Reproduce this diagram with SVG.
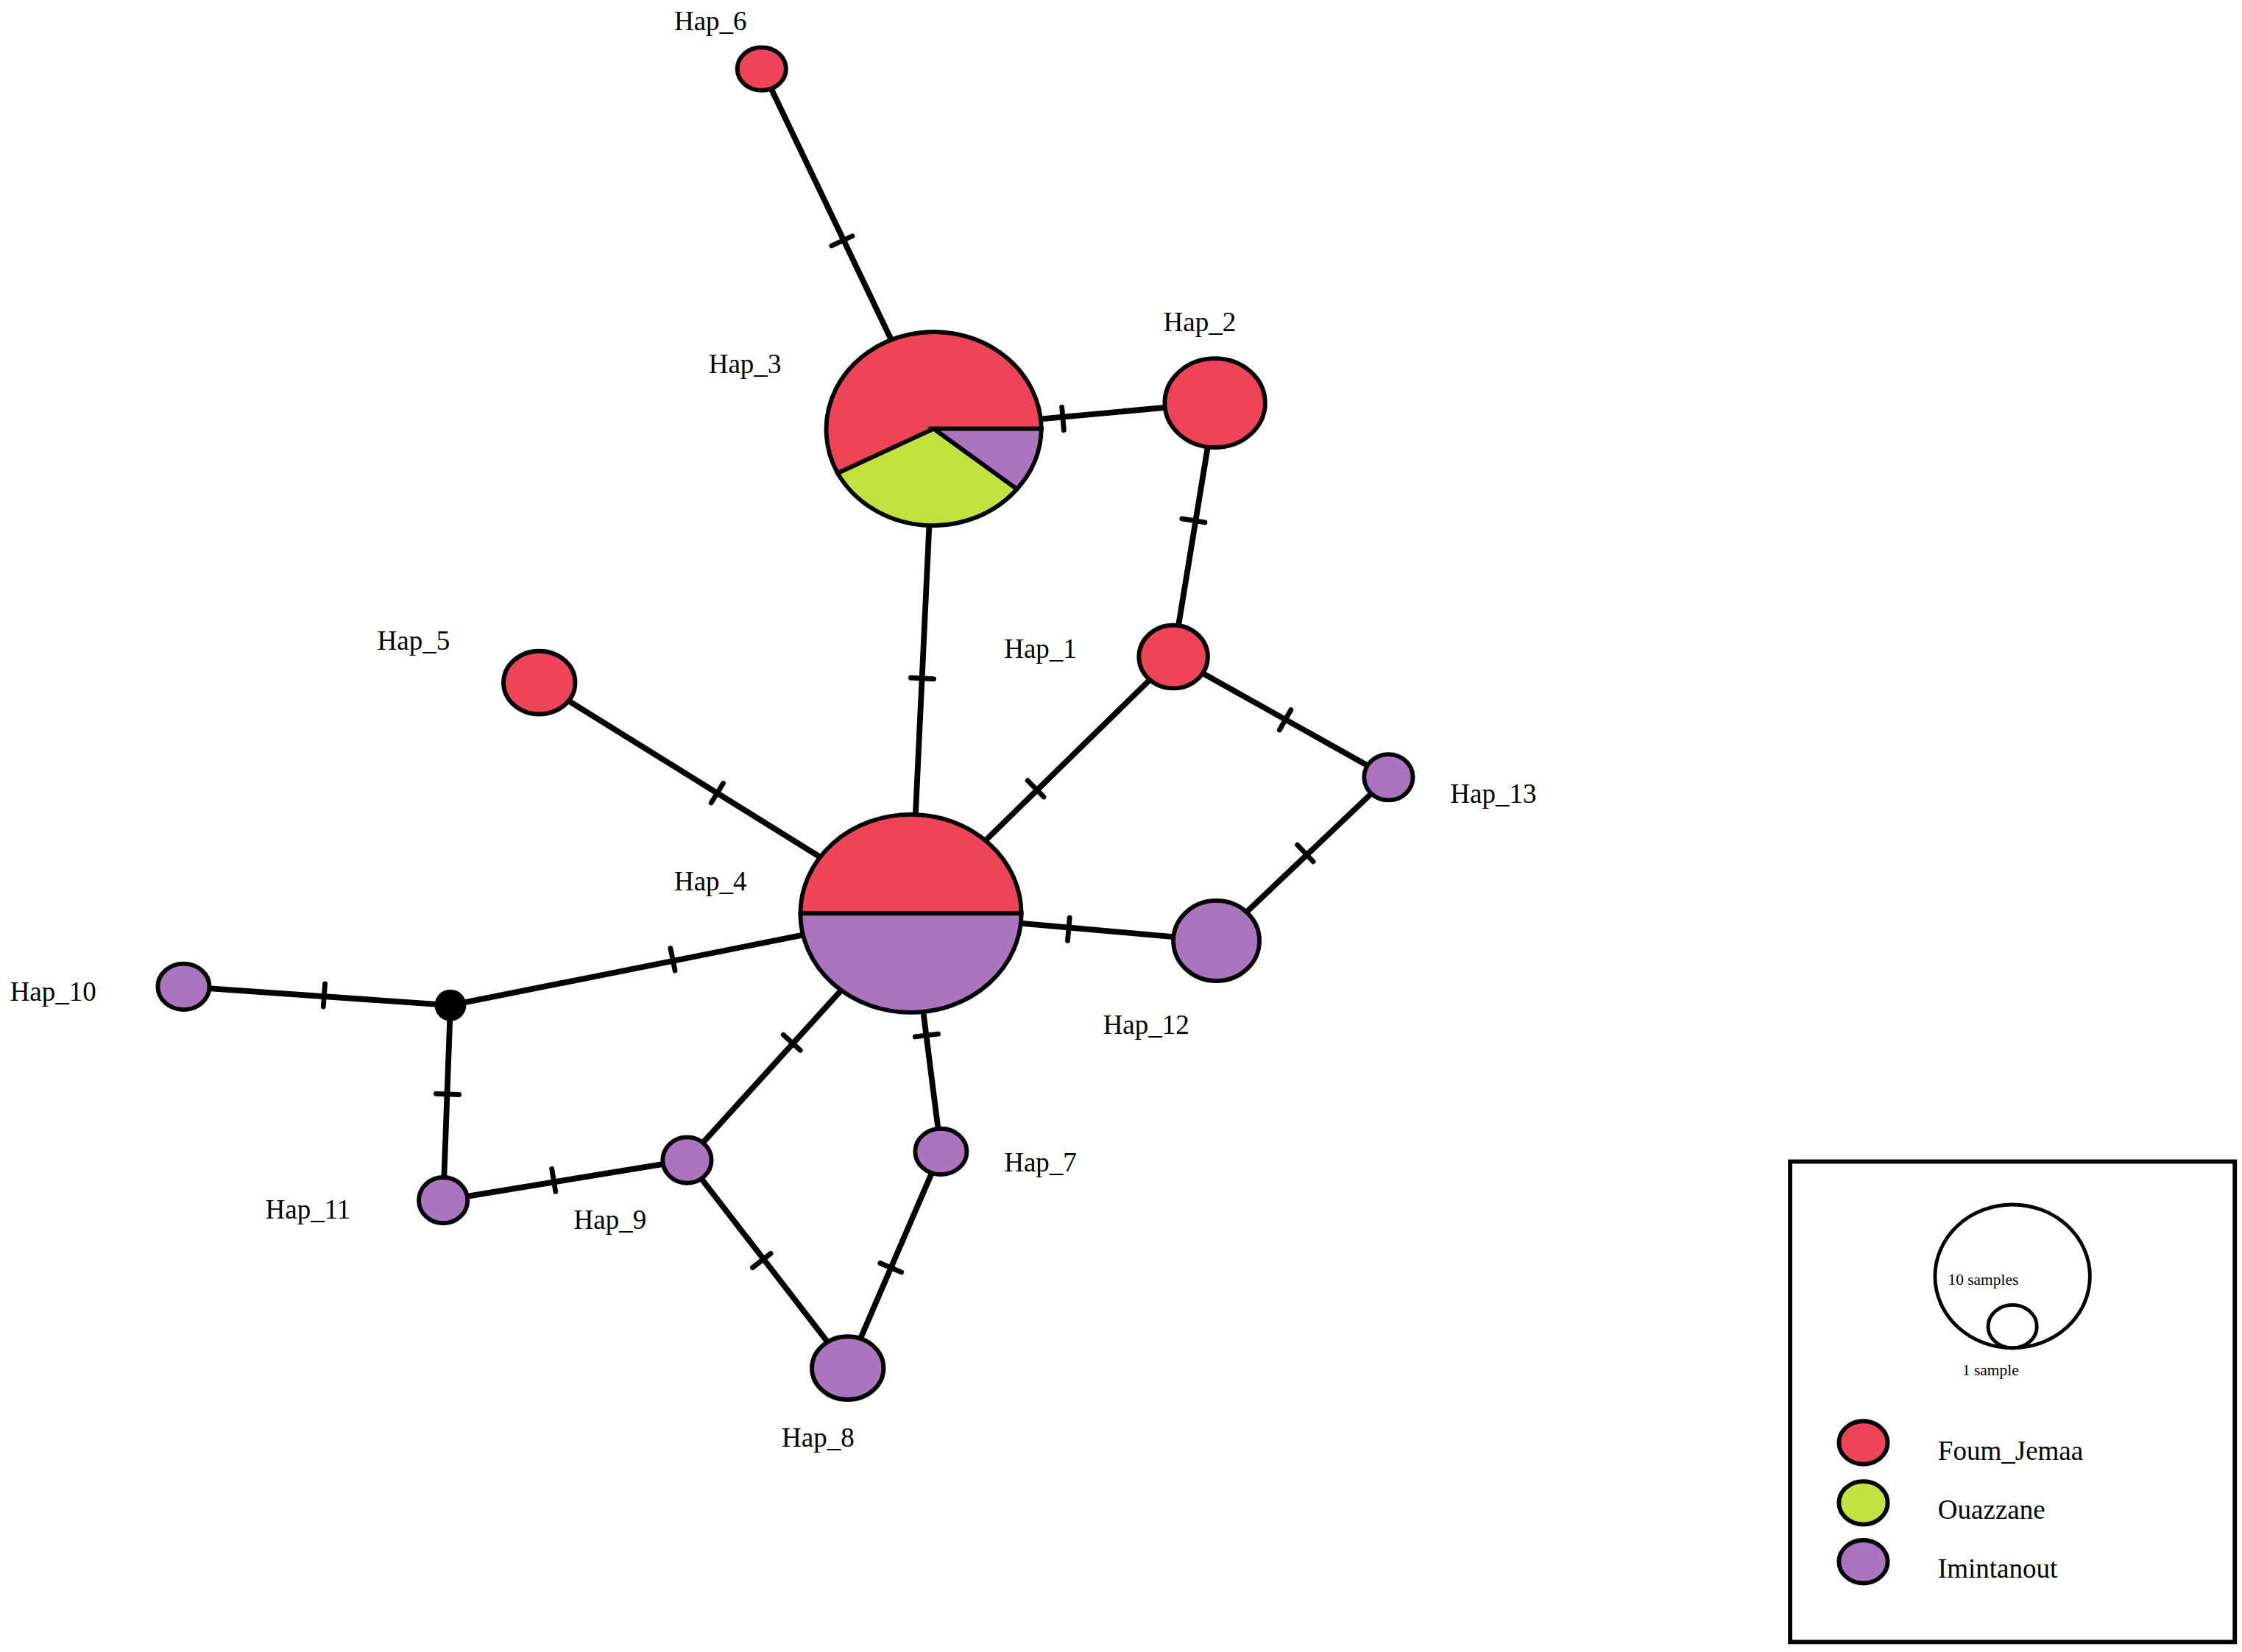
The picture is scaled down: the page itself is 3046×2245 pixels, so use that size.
<svg xmlns="http://www.w3.org/2000/svg" width="3046" height="2245" viewBox="0 0 3046 2245">
<style>
.e{stroke:#000;stroke-width:4;fill:none;stroke-linecap:round}
.t{stroke:#000;stroke-width:3.5;stroke-linecap:round}
.n{stroke:#000;stroke-width:3}
.r{fill:#EF4357}.g{fill:#C3E23F}.p{fill:#AB74BE}
.l{font-family:"Liberation Serif",serif;font-size:19px;fill:#000}
.s{font-family:"Liberation Serif",serif;font-size:11px;fill:#000}
</style>
<rect width="3046" height="2245" fill="#fff"/>
<g transform="scale(1.9488)">
<g id="connectors">
<line class="e" x1="531" y1="48" x2="651" y2="299"/><line class="t" x1="579.8" y1="171.4" x2="594.2" y2="164.6"/>
<line class="e" x1="651" y1="299" x2="847" y2="281"/><line class="t" x1="741.7" y1="300" x2="740.3" y2="284"/>
<line class="e" x1="847" y1="281" x2="818" y2="458"/><line class="t" x1="840" y1="364.3" x2="824" y2="361.7"/>
<line class="e" x1="651" y1="299" x2="635" y2="637"/><line class="t" x1="651" y1="473.4" x2="635" y2="472.6"/>
<line class="e" x1="818" y1="458" x2="635" y2="637"/><line class="t" x1="727.6" y1="555.7" x2="716.4" y2="544.3"/>
<line class="e" x1="818" y1="458" x2="968" y2="542"/><line class="t" x1="892" y1="509" x2="900" y2="495"/>
<line class="e" x1="968" y1="542" x2="848" y2="656"/><line class="t" x1="915.5" y1="600.8" x2="904.5" y2="589.2"/>
<line class="e" x1="635" y1="637" x2="848" y2="656"/><line class="t" x1="744.3" y1="656" x2="745.7" y2="640"/>
<line class="e" x1="376" y1="476" x2="635" y2="637"/><line class="t" x1="495.8" y1="559.8" x2="504.2" y2="546.2"/>
<line class="e" x1="635" y1="637" x2="314" y2="701"/><line class="t" x1="470.6" y1="676.8" x2="467.4" y2="661.2"/>
<line class="e" x1="314" y1="701" x2="128" y2="688"/><line class="t" x1="225.4" y1="702" x2="226.6" y2="686"/>
<line class="e" x1="314" y1="701" x2="309" y2="837"/><line class="t" x1="320" y1="763.3" x2="304" y2="762.7"/>
<line class="e" x1="309" y1="837" x2="479" y2="809"/><line class="t" x1="387.3" y1="830.9" x2="384.7" y2="815.1"/>
<line class="e" x1="635" y1="637" x2="479" y2="809"/><line class="t" x1="557.9" y1="732.4" x2="546.1" y2="721.6"/>
<line class="e" x1="635" y1="637" x2="656" y2="803"/><line class="t" x1="654" y1="721" x2="638" y2="723"/>
<line class="e" x1="479" y1="809" x2="591" y2="954"/><line class="t" x1="524.7" y1="883.9" x2="537.3" y2="874.1"/>
<line class="e" x1="656" y1="803" x2="591" y2="954"/><line class="t" x1="628.4" y1="887.2" x2="613.6" y2="880.8"/>
</g>
<g id="hap6"><ellipse class="n r" cx="531" cy="48" rx="17" ry="15"/><text class="l" x="470" y="21">Hap_6</text></g>
<g id="hap3">
<path class="n r" d="M651,299 L726,299 A75,68 0 1 0 584,330 Z"/>
<path class="n g" d="M651,299 L584,330 A75,68 0 0 0 709,341 Z"/>
<path class="n p" d="M651,299 L709,341 A75,68 0 0 0 726,299 Z"/>
<text class="l" x="494" y="260">Hap_3</text></g>
<g id="hap2"><ellipse class="n r" cx="847" cy="281" rx="35" ry="31"/><text class="l" x="811" y="231">Hap_2</text></g>
<g id="hap1"><ellipse class="n r" cx="818" cy="458" rx="24" ry="22"/><text class="l" x="700" y="459">Hap_1</text></g>
<g id="hap13"><ellipse class="n p" cx="968" cy="542" rx="17" ry="16"/><text class="l" x="1011" y="560">Hap_13</text></g>
<g id="hap12"><ellipse class="n p" cx="848" cy="656" rx="30" ry="28"/><text class="l" x="769" y="721">Hap_12</text></g>
<g id="hap4">
<path class="n r" d="M558,637 A77,69 0 0 1 712,637 Z"/>
<path class="n p" d="M712,637 A77,69 0 0 1 558,637 Z"/>
<text class="l" x="470" y="621">Hap_4</text></g>
<g id="hap5"><ellipse class="n r" cx="376" cy="476" rx="25" ry="22"/><text class="l" x="263" y="453">Hap_5</text></g>
<g id="hap10"><ellipse class="n p" cx="128" cy="688" rx="18" ry="16"/><text class="l" x="7" y="698">Hap_10</text></g>
<g id="median"><circle cx="314" cy="701" r="11" fill="#000"/></g>
<g id="hap11"><ellipse class="n p" cx="309" cy="837" rx="17" ry="16"/><text class="l" x="185" y="850">Hap_11</text></g>
<g id="hap9"><ellipse class="n p" cx="479" cy="809" rx="17" ry="16"/><text class="l" x="400" y="857">Hap_9</text></g>
<g id="hap7"><ellipse class="n p" cx="656" cy="803" rx="18" ry="16"/><text class="l" x="700" y="817">Hap_7</text></g>
<g id="hap8"><ellipse class="n p" cx="591" cy="954" rx="25" ry="22"/><text class="l" x="545" y="1009">Hap_8</text></g>
<g id="legend">
<rect x="1248" y="810" width="310" height="335" fill="none" stroke="#000" stroke-width="3"/>
<ellipse cx="1403" cy="890" rx="54" ry="50" fill="none" stroke="#000" stroke-width="2.5"/>
<ellipse cx="1403" cy="925" rx="17" ry="15" fill="none" stroke="#000" stroke-width="2.5"/>
<text class="s" x="1358" y="896">10 samples</text>
<text class="s" x="1368" y="959">1 sample</text>
<ellipse class="n r" cx="1299" cy="1006" rx="17" ry="15"/><text class="l" x="1351" y="1018">Foum_Jemaa</text>
<ellipse class="n g" cx="1299" cy="1048" rx="17" ry="15"/><text class="l" x="1351" y="1059">Ouazzane</text>
<ellipse class="n p" cx="1299" cy="1089" rx="17" ry="15"/><text class="l" x="1351" y="1100">Imintanout</text>
</g>
</g>
</svg>
